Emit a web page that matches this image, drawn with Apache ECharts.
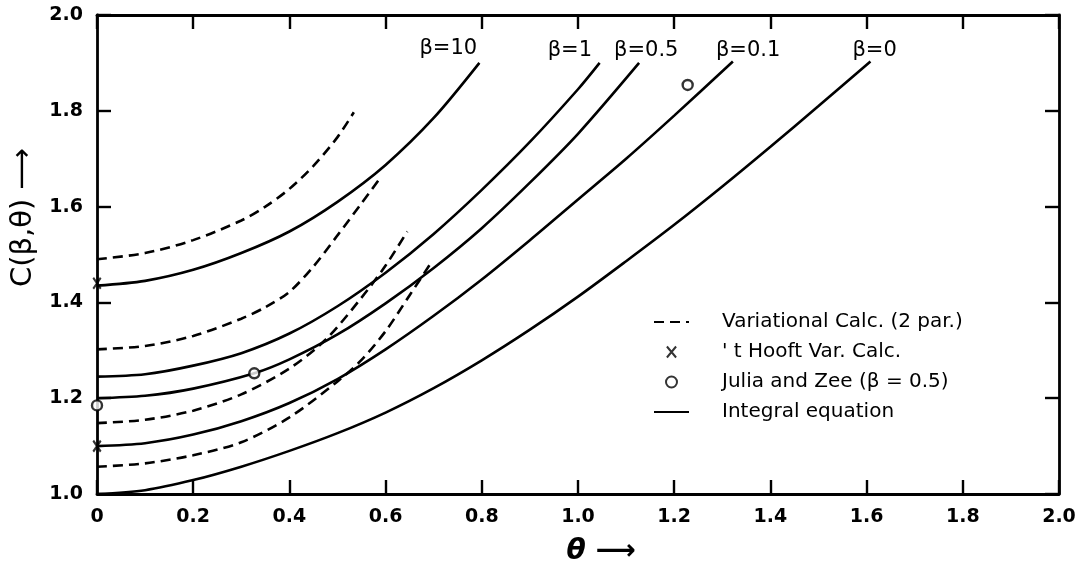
<!DOCTYPE html>
<html><head><meta charset="utf-8">
<script src="https://cdn.jsdelivr.net/npm/echarts@6/dist/echarts.min.js"></script>
<style>html,body{margin:0;padding:0;background:#fff}#c{width:1081px;height:572px}</style>
</head><body><div id="c"></div>
<script>
// ---- data (theta, C) ----
const solidB10 = [[0,1.435],[0.1,1.445],[0.2,1.468],[0.3,1.503],[0.4,1.548],[0.5,1.61],[0.6,1.687],[0.7,1.785],[0.795,1.9]];
const solidB1  = [[0,1.245],[0.1,1.25],[0.2,1.268],[0.3,1.294],[0.4,1.335],[0.5,1.392],[0.6,1.462],[0.7,1.543],[0.8,1.635],[0.9,1.735],[1.0,1.845],[1.045,1.9]];
const solidB05 = [[0,1.20],[0.1,1.205],[0.2,1.22],[0.327,1.252],[0.4,1.281],[0.5,1.333],[0.6,1.398],[0.7,1.472],[0.8,1.555],[0.9,1.65],[1.0,1.752],[1.127,1.9]];
const solidB01 = [[0,1.10],[0.1,1.106],[0.2,1.124],[0.3,1.152],[0.4,1.19],[0.5,1.24],[0.6,1.302],[0.7,1.372],[0.8,1.448],[0.9,1.53],[1.0,1.615],[1.1,1.70],[1.2,1.79],[1.322,1.903]];
const solidB0  = [[0,1.0],[0.1,1.008],[0.2,1.029],[0.3,1.057],[0.4,1.09],[0.5,1.127],[0.6,1.17],[0.7,1.221],[0.8,1.279],[0.9,1.343],[1.0,1.412],[1.1,1.486],[1.2,1.562],[1.3,1.642],[1.4,1.725],[1.5,1.81],[1.608,1.903]];

const dashB10 = [[0,1.49],[0.1,1.503],[0.2,1.53],[0.3,1.571],[0.35,1.6],[0.4,1.637],[0.45,1.685],[0.5,1.745],[0.534,1.797]];
const dashB1  = [[0,1.302],[0.1,1.309],[0.2,1.33],[0.3,1.366],[0.35,1.39],[0.4,1.422],[0.45,1.475],[0.5,1.54],[0.55,1.607],[0.586,1.656]];
const dashB05 = [[0,1.148],[0.1,1.155],[0.2,1.174],[0.3,1.208],[0.4,1.262],[0.475,1.322],[0.55,1.41],[0.6,1.477],[0.645,1.548]];
const dashB01 = [[0,1.057],[0.1,1.064],[0.2,1.081],[0.3,1.108],[0.4,1.16],[0.5,1.235],[0.55,1.28],[0.6,1.34],[0.65,1.415],[0.696,1.485]];

const hooftPts = [[0,1.44],[0,1.10]];
const juliaPts = [[0,1.185],[0.327,1.252],[1.228,1.854]];

const betaLabels = ['β=10','β=1','β=0.5','β=0.1','β=0'];

const NAME_VAR = 'Variational Calc. (2 par.)';
const NAME_HOOFT = "' t Hooft Var. Calc.";
const NAME_JULIA = 'Julia and Zee (β = 0.5)';
const NAME_INT = 'Integral equation';

// ---- styling ----
const FONT = 'DejaVu Sans';
const INK = '#000';
const SMOOTH = 0.3;
const solids = [solidB10, solidB1, solidB05, solidB01, solidB0];
const dashes = [dashB10, dashB1, dashB05, dashB01];
const labelOffsets = [[-60,-14],[-52,-12],[-25,-12],[-17,-11],[-18,-11]];

const series = [];
solids.forEach((d, i) => {
  const last = d[d.length - 1];
  series.push({
    type: 'line', name: NAME_INT, data: d, showSymbol: false, symbol: 'none',
    smooth: SMOOTH,
    lineStyle: { color: INK, width: 2.6 }, itemStyle: { color: INK },
    markPoint: {
      symbol: 'circle', symbolSize: 0, itemStyle: { color: 'transparent' },
      data: [{ coord: last, value: betaLabels[i] }],
      label: { show: true, position: 'inside', align: 'left', verticalAlign: 'middle',
        offset: labelOffsets[i], formatter: betaLabels[i],
        color: INK, fontFamily: FONT, fontSize: 21 }
    }
  });
});
dashes.forEach(d => {
  series.push({
    type: 'line', name: NAME_VAR, data: d, showSymbol: false, symbol: 'none',
    smooth: SMOOTH,
    lineStyle: { color: INK, width: 2.6, type: [10, 6] }, itemStyle: { color: INK }
  });
});
series.push({
  type: 'scatter', name: NAME_HOOFT, data: hooftPts, clip: false,
  symbol: 'path://M0,0L10,12M10,0L0,12', symbolSize: [9, 11], symbolKeepAspect: true,
  itemStyle: { color: 'none', borderColor: INK, borderWidth: 2.2 }, z: 5
});
series.push({
  type: 'scatter', name: NAME_JULIA, data: juliaPts, clip: false,
  symbol: 'circle', symbolSize: 10, symbolKeepAspect: true,
  itemStyle: { color: '#fff', borderColor: INK, borderWidth: 2.4 }, z: 6
});

const axisCommon = {
  axisLine: { show: true, onZero: false, lineStyle: { color: INK, width: 2.8 } },
  axisTick: { show: true, inside: true, length: 14, lineStyle: { color: INK, width: 2.4 } },
  splitLine: { show: false }
};
const tickFont = { color: INK, fontFamily: FONT, fontSize: 19, fontWeight: 'bold' };
const hiddenSym = { color: 'rgba(0,0,0,0)', borderWidth: 0, opacity: 0 };

const option = {
  animation: false,
  backgroundColor: '#fff',
  grid: { left: 97, right: 22, top: 15, bottom: 78 },
  xAxis: [
    Object.assign({ type: 'value', min: 0, max: 2, interval: 0.2, position: 'bottom',
      axisLabel: Object.assign({ margin: 14, formatter: v => v === 0 ? '0' : v.toFixed(1) }, tickFont),
      name: 'θ ⟶', nameLocation: 'middle', nameGap: 44,
      nameTextStyle: { color: INK, fontFamily: FONT, fontSize: 28, fontWeight: 'bold', fontStyle: 'italic', padding: [0, 0, 0, 46] }
    }, axisCommon),
    Object.assign({ type: 'value', min: 0, max: 2, interval: 0.2, position: 'top',
      axisLabel: { show: false } }, axisCommon)
  ],
  yAxis: [
    Object.assign({ type: 'value', min: 1, max: 2, interval: 0.2, position: 'left',
      axisLabel: Object.assign({ margin: 14, formatter: v => v.toFixed(1) }, tickFont),
      name: 'C(β,θ) ⟶', nameLocation: 'middle', nameRotate: 90, nameGap: 52,
      nameTextStyle: { color: INK, fontFamily: FONT, fontSize: 29, padding: [0, 0, 0, 74] }
    }, axisCommon),
    Object.assign({ type: 'value', min: 1, max: 2, interval: 0.2, position: 'right',
      axisLabel: { show: false } }, axisCommon)
  ],
  legend: {
    orient: 'vertical', left: 648, top: 307, itemWidth: 35, itemHeight: 11, itemGap: 10,
    selectedMode: false,
    textStyle: { color: INK, fontFamily: FONT, fontSize: 20, padding: [0, 0, 0, 28] },
    data: [
      { name: NAME_VAR, itemStyle: hiddenSym },
      { name: NAME_HOOFT },
      { name: NAME_JULIA },
      { name: NAME_INT, itemStyle: hiddenSym }
    ]
  },
  series: series
};
const chart = echarts.init(document.getElementById('c'), null, { renderer: 'canvas' });
chart.setOption(option);
</script>
</body></html>
